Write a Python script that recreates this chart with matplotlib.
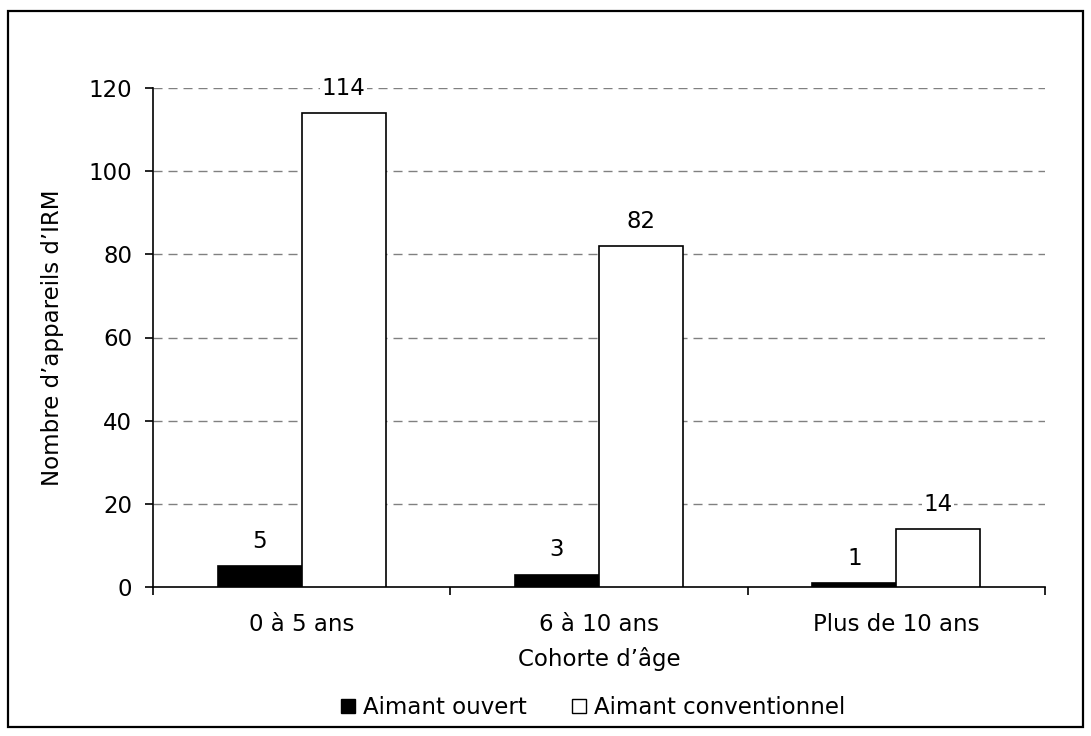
import matplotlib
matplotlib.use("Agg")
import matplotlib.pyplot as plt
from matplotlib.patches import Rectangle
from matplotlib.lines import Line2D
import numpy as np

categories = ["0 à 5 ans", "6 à 10 ans", "Plus de 10 ans"]
series_names = ["Aimant ouvert", "Aimant conventionnel"]
aimant_ouvert = [5, 3, 1]
aimant_conventionnel = [114, 82, 14]
y_ticks = [0, 20, 40, 60, 80, 100, 120]

plt.rcParams["font.family"] = ["DejaVu Sans"]
FS = 16.5

W, H = 1091, 736
fig = plt.figure(figsize=(W / 100, H / 100), dpi=100)
ax = fig.add_axes([153 / W, 1 - 587 / H, (1045 - 153) / W, (587 - 88) / H])

x = np.arange(len(categories))
w = 0.283
b1 = ax.bar(x - w / 2, aimant_ouvert, w, color="black", edgecolor="black", linewidth=1.2, zorder=3)
b2 = ax.bar(x + w / 2, aimant_conventionnel, w, color="white", edgecolor="black", linewidth=1.2, zorder=3)

# value labels above each bar
for bars, vals in ((b1, aimant_ouvert), (b2, aimant_conventionnel)):
    for r, v in zip(bars, vals):
        ax.annotate(f"{v}", (r.get_x() + r.get_width() / 2, v), xytext=(0, 13),
                    textcoords="offset points", ha="center", va="baseline", fontsize=FS,
                    bbox=dict(facecolor="white", edgecolor="none", pad=1), zorder=4)

ax.set_xlim(-0.5, len(categories) - 0.5)
ax.set_ylim(0, 120)
ax.set_yticks(y_ticks)
ax.set_yticklabels([str(t) for t in y_ticks], fontsize=FS)
ax.set_xticks(x)
ax.set_xticklabels(categories, fontsize=FS)
ax.tick_params(axis="x", length=0, pad=19)
ax.set_xticks(np.arange(len(categories) + 1) - 0.5, minor=True)
ax.tick_params(axis="x", which="minor", length=6, width=1.2, direction="out")
ax.tick_params(axis="y", length=6, width=1.2, direction="out", pad=9)

for t in y_ticks[1:]:
    ax.axhline(t, color="#808080", linestyle=(0, (6.5, 4.3)), linewidth=1, zorder=1)

for s in ("top", "right"):
    ax.spines[s].set_visible(False)
for s in ("left", "bottom"):
    ax.spines[s].set_linewidth(1.2)

ax.set_xlabel("Cohorte d’âge", fontsize=FS, va="center")
ax.xaxis.set_label_coords(0.5, (587 - 659) / 499)
ax.set_ylabel("Nombre d’appareils d’IRM", fontsize=FS, va="center")
ax.yaxis.set_label_coords((53 - 153) / 892, 0.5)

handles = [Line2D([], [], marker="s", linestyle="none", markersize=10.5, markerfacecolor="black",
                  markeredgecolor="black"),
           Line2D([], [], marker="s", linestyle="none", markersize=10.5, markerfacecolor="white",
                  markeredgecolor="black")]
fig.legend(handles, series_names, loc="center", bbox_to_anchor=(592 / W, 1 - 708 / H),
           ncol=2, frameon=False, fontsize=FS, handletextpad=0.25, columnspacing=1.9,
           handlelength=0.8, borderpad=0)

fig.add_artist(Rectangle((8 / W, 9 / H), 1075 / W, 716 / H, transform=fig.transFigure,
                         fill=False, edgecolor="black", linewidth=1.6))

fig.savefig("out.png", dpi=100)
